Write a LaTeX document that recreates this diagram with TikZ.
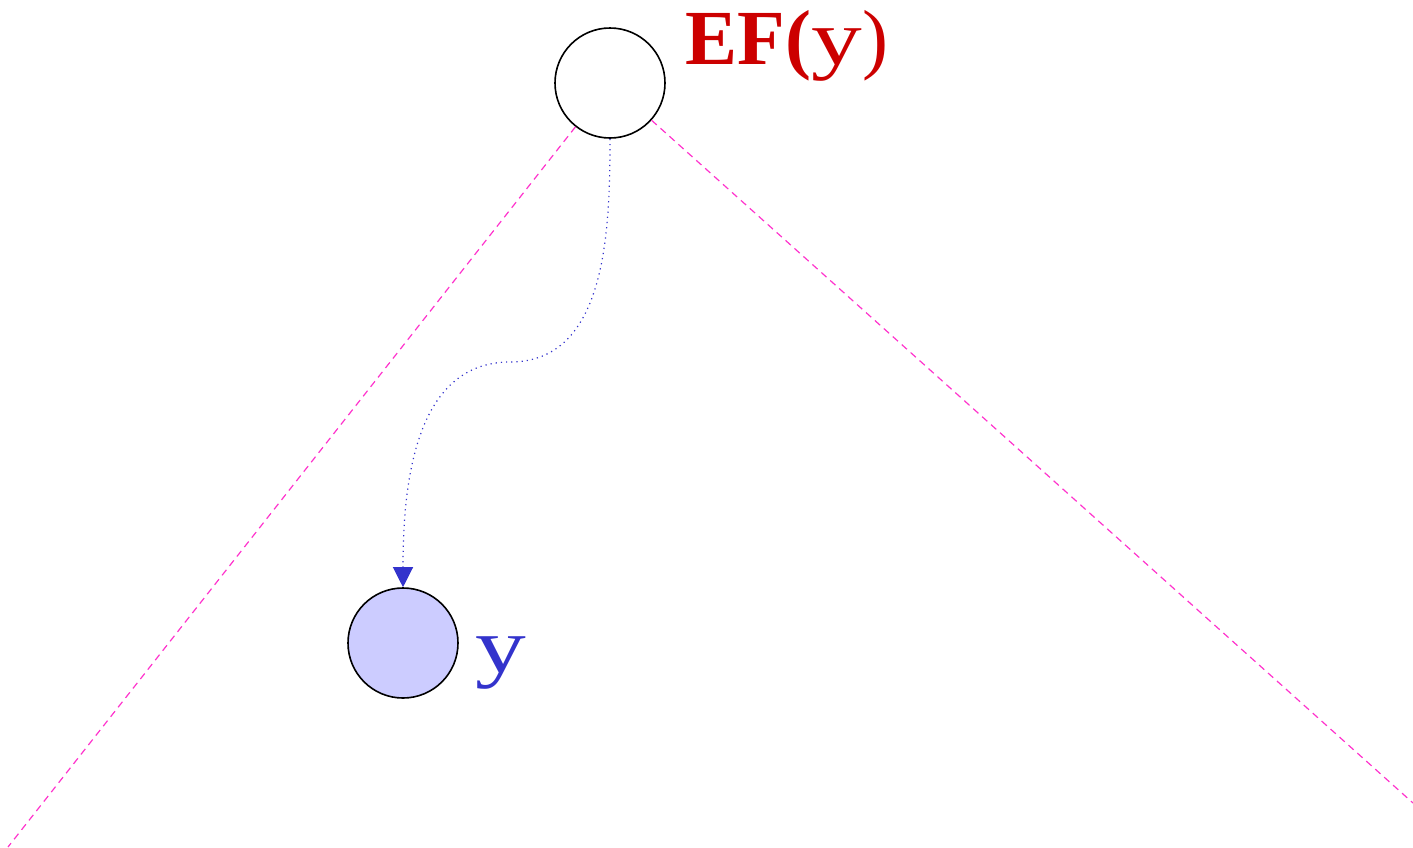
\documentclass[tikz,border=0pt]{standalone}
\usepackage{fontspec}
\setmainfont{Liberation Serif}
\usetikzlibrary{arrows.meta}
\definecolor{efred}{RGB}{204,0,0}
\definecolor{yblue}{RGB}{51,51,204}
\definecolor{ylight}{RGB}{204,204,255}
\definecolor{conepink}{RGB}{255,51,204}
\newcommand{\widey}{\scalebox{1.3}[1]{y}}
\begin{document}
\begin{tikzpicture}[
        x=0.5pt, y=-0.5pt,
        every node/.style={draw, circle, minimum size=55pt, inner sep=0pt, line width=0.8pt},
        lbl/.style={draw=none, rectangle, minimum size=0pt, inner sep=0pt, font=\fontsize{39}{41}\selectfont},
        cone/.style={conepink, dash pattern=on 3.5pt off 2.5pt, line width=0.6pt},
        trace/.style={yblue, dotted, line width=0.6pt, -{Triangle[width=10pt,length=10pt]}},
    ]
    \useasboundingbox (0,0) rectangle (1413,847);
    \node[](ef) at (610,83){};
    \node[fill=ylight](y) at (403,643){};
    \node[lbl, text=efred, anchor=base west](eflabel) at (685,64){\textbf{EF(}\widey)};
    \node[lbl, text=yblue, anchor=base west](ylabel) at (475,672){\widey};
    \coordinate (left) at (8,847);
    \coordinate (right) at (1413,803);
    \coordinate (bend) at (510,362);
    \draw[cone] (ef) -- (left);
    \draw[cone] (ef) -- (right);
    \draw[trace] (ef.south) to[out=-90, in=0] (bend) to[out=180, in=90] (y.north);
\end{tikzpicture}
\end{document}
